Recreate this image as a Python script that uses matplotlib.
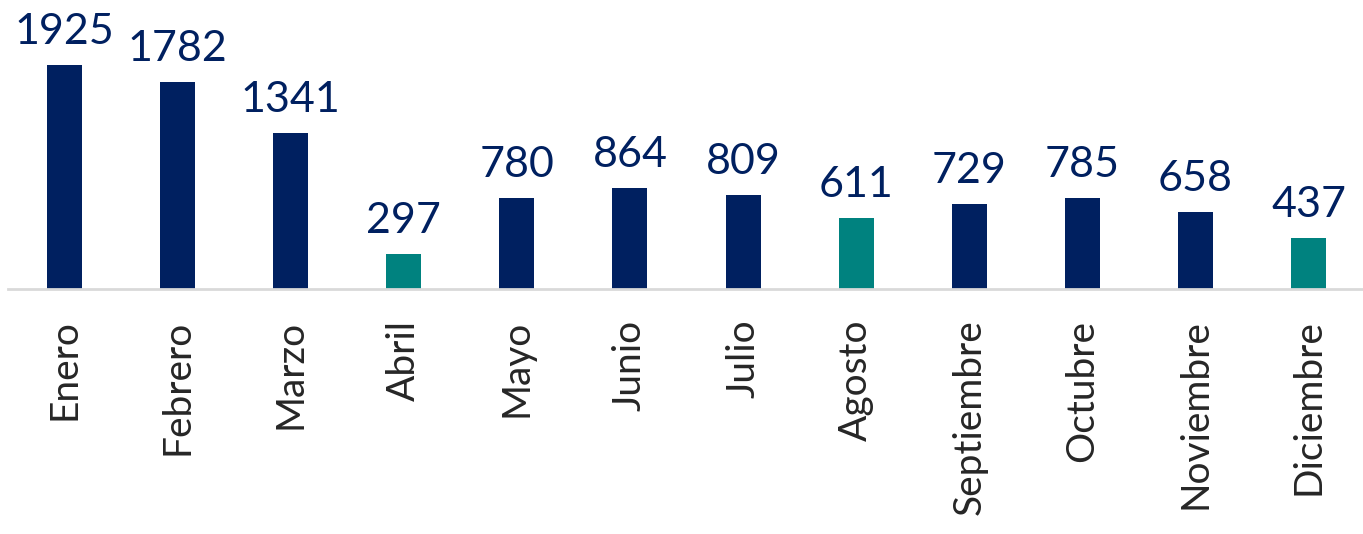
import matplotlib
matplotlib.use("Agg")
import matplotlib.pyplot as plt

months = ["Enero", "Febrero", "Marzo", "Abril", "Mayo", "Junio", "Julio",
          "Agosto", "Septiembre", "Octubre", "Noviembre", "Diciembre"]
values = [1925, 1782, 1341, 297, 780, 864, 809, 611, 729, 785, 658, 437]
highlight = ["Abril", "Agosto", "Diciembre"]

navy = "#002060"
teal = "#00827F"

plt.rcParams["font.family"] = ["Lato", "DejaVu Sans"]

fig = plt.figure(figsize=(13.63, 5.34), dpi=100)
ax = fig.add_axes([8 / 1363, 245 / 534, 1357 / 1363, 289 / 534])

colors = [teal if m in highlight else navy for m in months]
x = range(len(months))
bars = ax.bar(x, values, width=0.31, color=colors)

# value labels above bars
for b, v in zip(bars, values):
    ax.annotate(str(v), (b.get_x() + b.get_width() / 2, v),
                xytext=(0, 14), textcoords="offset pixels",
                ha="center", va="bottom", fontsize=31, color=navy)

ax.set_xlim(-0.5, len(months) - 0.5)
ax.set_ylim(0, 2483)
ax.set_xticks(list(x))
ax.set_xticklabels(months, rotation=90, fontsize=28, color="#262626")
ax.tick_params(axis="x", length=0, pad=22)
ax.set_yticks([])
for s in ["top", "right", "left"]:
    ax.spines[s].set_visible(False)
ax.spines["bottom"].set_color("#D9D9D9")
ax.spines["bottom"].set_linewidth(2)

fig.savefig("out.png", dpi=100)
